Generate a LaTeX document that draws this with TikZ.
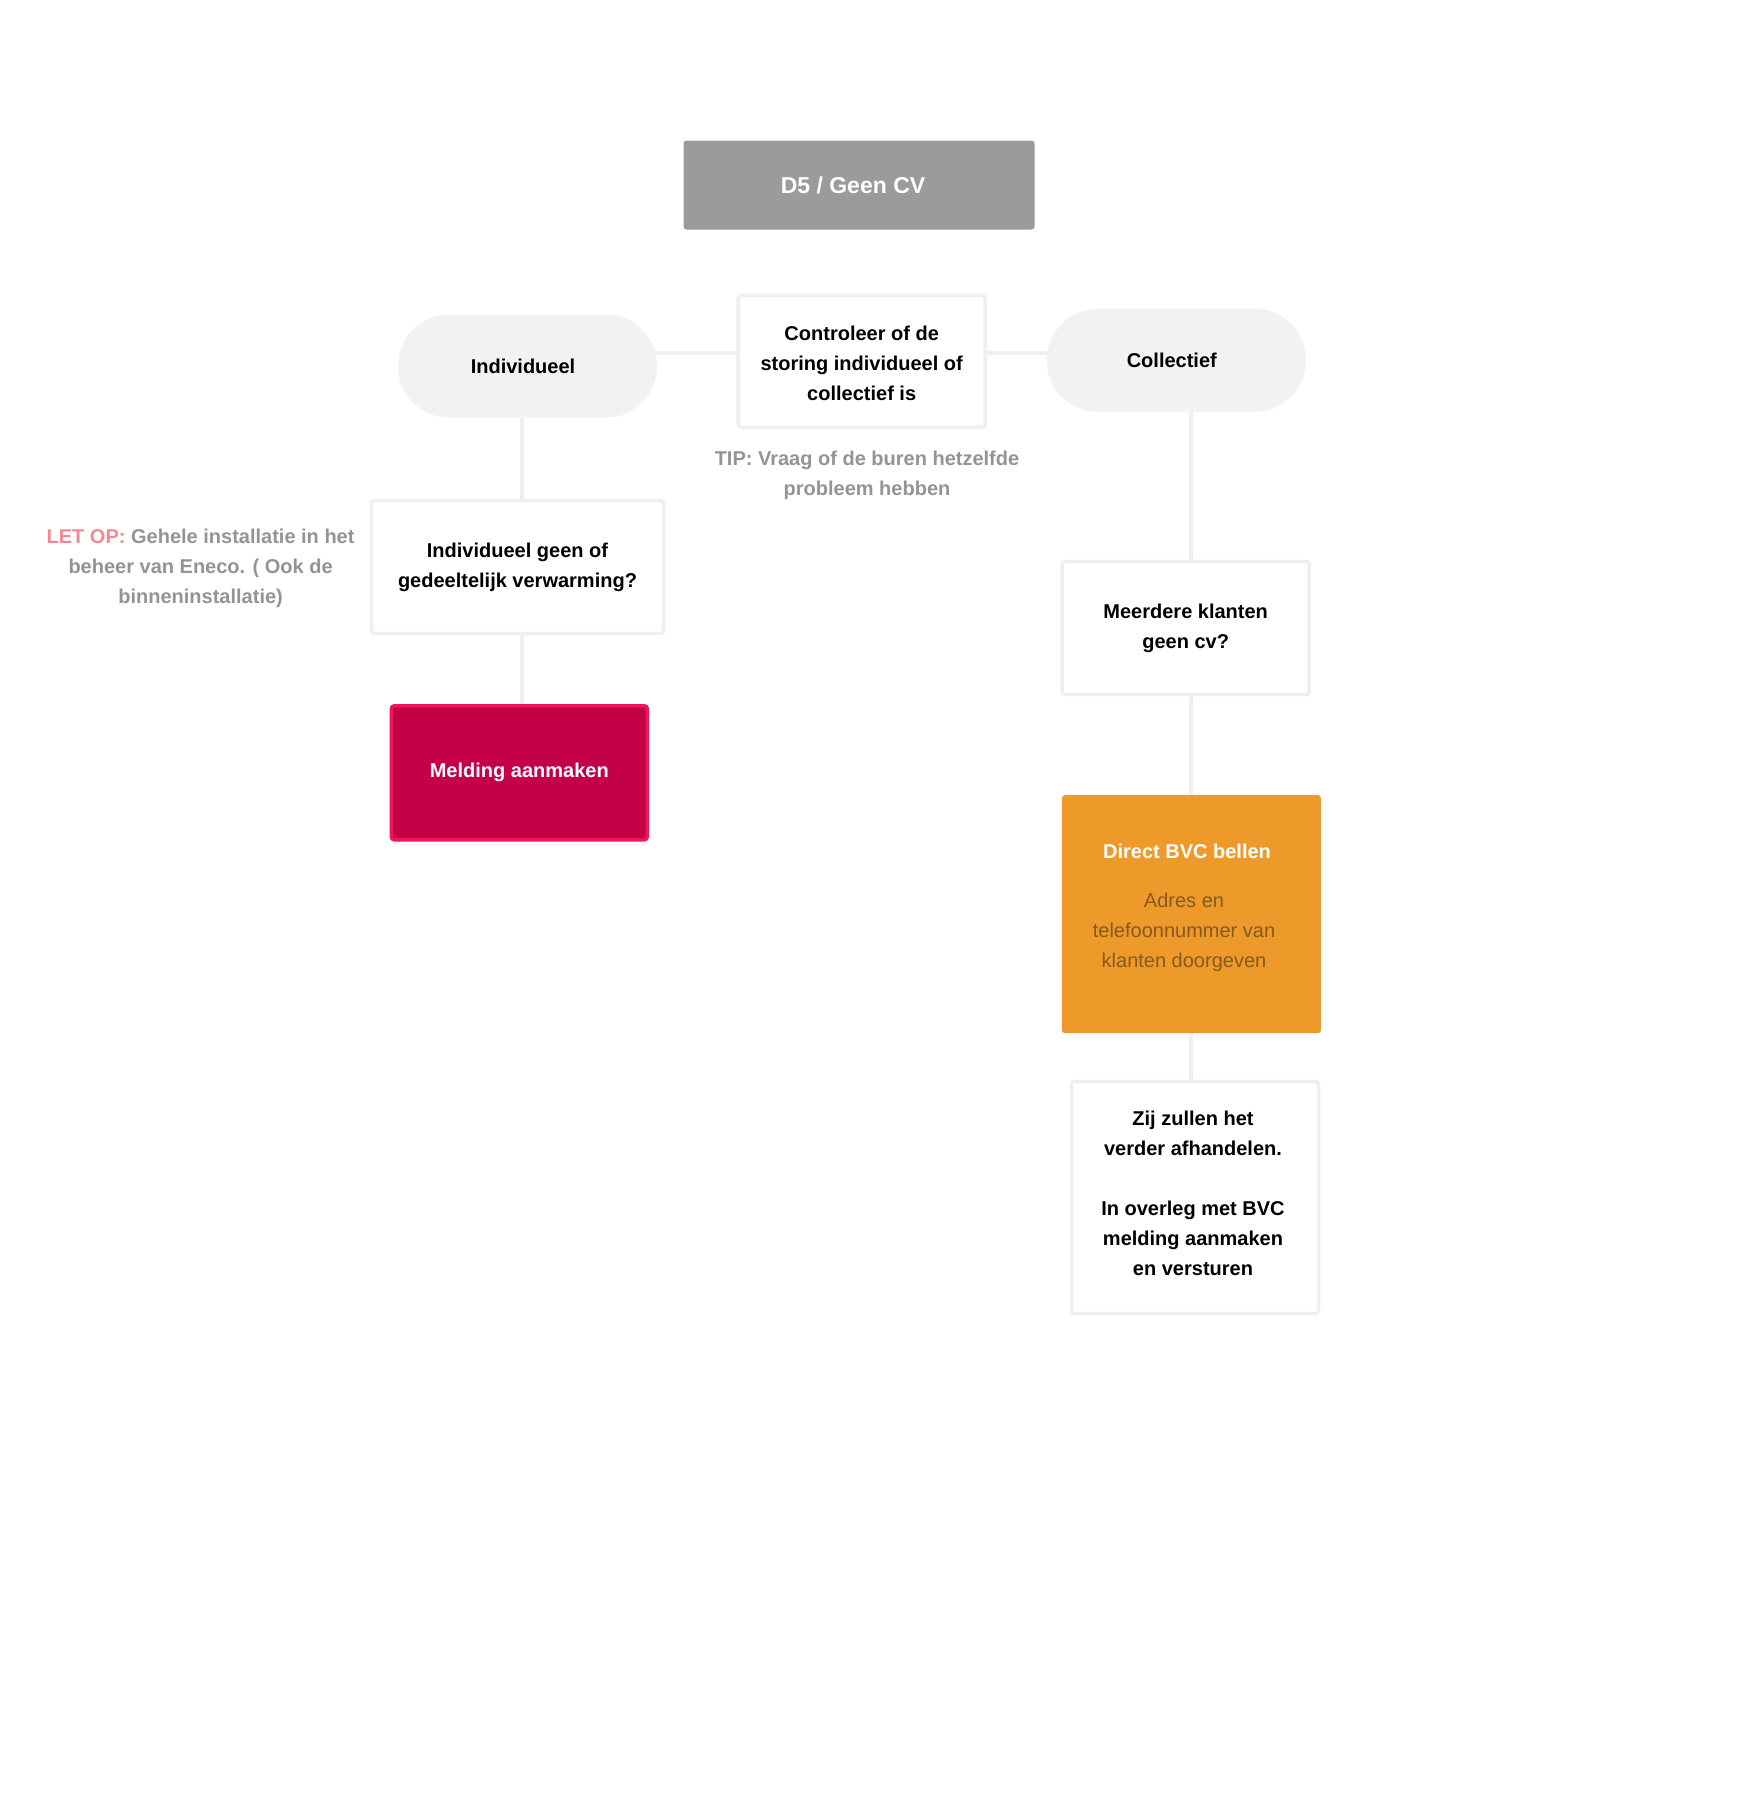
\documentclass[tikz,border=0pt]{standalone}
\usepackage{fontspec}
\setmainfont{Liberation Sans}
\usetikzlibrary{backgrounds}
\definecolor{titlegray}{HTML}{9B9B9B}
\definecolor{pillgray}{HTML}{F2F2F2}
\definecolor{edgegray}{HTML}{EFEFEF}
\definecolor{mfill}{HTML}{C40046}
\definecolor{medge}{HTML}{F0145A}
\definecolor{orangebox}{HTML}{EE9A2A}
\definecolor{orangetext}{HTML}{86591F}
\definecolor{tipgray}{HTML}{949494}
\definecolor{letop}{HTML}{EE8A95}
\tikzset{
  x=1pt, y=-1pt,
  base/.style={font=\fontsize{20pt}{30pt}\selectfont\bfseries, align=center, inner sep=0pt},
  titlebox/.style={base, fill=titlegray, text=white, rounded corners=3pt,
    minimum width=351pt, minimum height=89pt, font=\fontsize{23pt}{30pt}\selectfont\bfseries},
  pill/.style={base, fill=pillgray, rounded corners=51pt, minimum width=259pt, minimum height=103pt},
  qbox/.style={base, fill=white, draw=edgegray, line width=3.5pt, rounded corners=3pt},
  redbox/.style={base, fill=mfill, draw=medge, line width=3.5pt, rounded corners=3pt, text=white,
    minimum width=256pt, minimum height=134pt},
  obox/.style={fill=orangebox, rounded corners=3pt, minimum width=259pt, minimum height=238pt, inner sep=0pt},
  note/.style={base, text=tipgray},
  conn/.style={draw=edgegray, line width=3.5pt},
}
\begin{document}
\begin{tikzpicture}
\useasboundingbox (0,0) rectangle (1758,1807);

% main flow
\node[titlebox] (title) at (859,185) {D5 / Geen CV\hspace*{12pt}};
\node[pill] (indiv) at (527.5,366) {Individueel\hspace*{9pt}};
\node[qbox, minimum width=247pt, minimum height=132pt] (check) at (861.7,361.4) {};
\node[base] (checktext) at (861.7,363.5)
  {Controleer of de\\storing individueel of\\collectief is};
\node[pill] (coll) at (1176.3,360.2) {Collectief\hspace*{9pt}};
\node[note] (tip) at (867,475) {TIP: Vraag of de buren hetzelfde\\probleem hebben};

% individual branch
\node[qbox, minimum width=292pt, minimum height=133pt] (q1) at (517.5,567)
  {Individueel geen of\\gedeeltelijk verwarming?};
\node[note] (warn) at (200.6,568)
  {\textcolor{letop}{LET OP:} Gehele installatie in het\\beheer van Eneco. ( Ook de\\binneninstallatie)};
\node[redbox] (melding) at (519.3,772.8) {Melding aanmaken};

% collective branch
\node[qbox, minimum width=247pt, minimum height=133pt] (q2) at (1185.7,628)
  {Meerdere klanten\\geen cv?};
\node[obox] (bvc) at (1191.4,914.2) {};
\node[base, text=white] (bvctitle) at (1187,851) {Direct BVC bellen};
\node[base, font=\fontsize{20pt}{30pt}\selectfont, text=orangetext] (bvcsub) at (1184,932)
  {Adres en\\telefoonnummer van\\klanten doorgeven};
\node[qbox, minimum width=247pt, minimum height=232pt] (final) at (1195,1197.5) {};
\node[base] (finaltext) at (1193,1193.5)
  {Zij zullen het\\verder afhandelen.\\[30pt]In overleg met BVC\\melding aanmaken\\en versturen};

% connectors behind the boxes
\coordinate (hl) at (0,353);
\coordinate (lx) at (522,0);
\coordinate (rx) at (1191,0);
\begin{scope}[on background layer]
  \fill[white] (0,0) rectangle (1758,1807);
  \draw[conn] (indiv |- hl) -- (coll |- hl);
  \draw[conn] (lx |- indiv.south) -- (lx |- q1.north);
  \draw[conn] (lx |- q1.south) -- (lx |- melding.north);
  \draw[conn] (rx |- coll.south) -- (rx |- q2.north);
  \draw[conn] (rx |- q2.south) -- (rx |- bvc.north);
  \draw[conn] (rx |- bvc.south) -- (rx |- final.north);
\end{scope}
\end{tikzpicture}
\end{document}
